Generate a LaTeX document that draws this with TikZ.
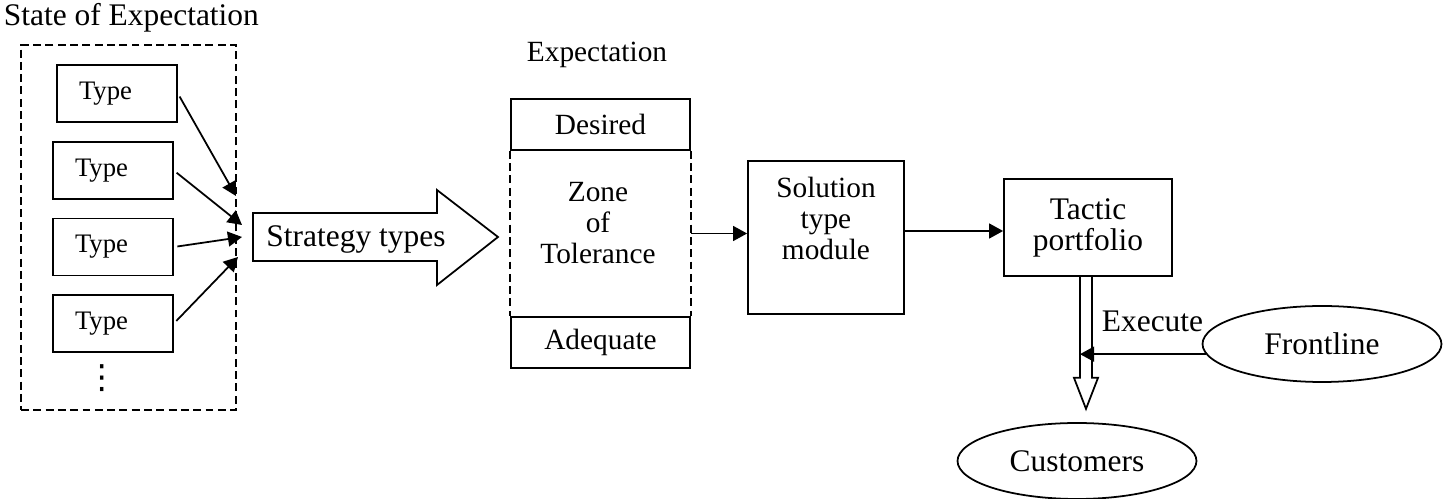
\documentclass[tikz,border=0pt]{standalone}
\usepackage{fontspec}
\setmainfont{Liberation Serif}
\newfontfamily\symfont{DejaVu Sans}
\usetikzlibrary{shapes.geometric, arrows.meta, calc, positioning}

\newcommand{\stdfont}{\fontsize{17.9}{17.6}\selectfont}
\newcommand{\midfont}{\fontsize{16.7}{17.9}\selectfont}
\newcommand{\typefont}{\fontsize{15.2}{17}\selectfont}

\begin{document}
\begin{tikzpicture}[x=0.02cm, y=-0.02cm, line width=1pt,
  box/.style={draw, rectangle, inner sep=0pt},
  typebox/.style={box, minimum width=2.4cm, minimum height=1.14cm, font=\typefont,
    align=left, text width=1.52cm, inner xsep=0.44cm},
  ell/.style={draw, ellipse, minimum width=4.78cm, minimum height=1.52cm, font=\stdfont},
  dashline/.style={dash pattern=on 4.5pt off 2.5pt},
  conn/.style={-{Triangle[length=8pt, width=8.5pt]}}]
  \useasboundingbox (0,0) rectangle (1445,499);

  % State of expectation
  \node[font=\stdfont, anchor=base west, inner sep=0pt] (soetitle) at (3,26) {State of Expectation};
  \node[draw, dashline, minimum width=4.3cm, minimum height=7.3cm] (soe) at (128.5,227.5) {};
  \foreach \i/\x/\y in {1/117/93.5, 2/113/170.5, 3/113/247, 4/113/323.5}
    \node[typebox] (t\i) at (\x,\y) {Type};
  \node[font=\symfont\fontsize{19}{19}\selectfont, inner sep=0pt] (dots) at (102,378) {⋮};
  \foreach \i/\x/\y in {1/236/196, 2/242/225, 3/242/237, 4/238/257}
    \coordinate (in\i) at (\x,\y);
  \foreach \i in {1,...,4}
    \draw[conn, shorten <=2pt] (t\i.east) -- (in\i);

  % Strategy types (block arrow)
  \coordinate (sa) at (253,237);
  \draw ($(sa)+(0,-24)$) -- ++(184,0) -- ++(0,-23) -- ++(61,47) -- ++(-61,48)
    -- ++(0,-24) -- ++(-184,0) -- cycle;
  \node[font=\stdfont, anchor=base] (st) at (356,247) {Strategy types};

  % Expectation
  \node[font=\midfont, anchor=base] (exptitle) at (597,62) {Expectation};
  \node[box, minimum width=3.58cm, minimum height=1.02cm, font=\midfont] (des) at (600.5,124.5) {Desired};
  \node[box, minimum width=3.58cm, minimum height=1.02cm, font=\midfont] (ade) at (600.5,342.5) {Adequate};
  \draw[dashline] (des.south west) -- (ade.north west);
  \draw[dashline] (des.south east) -- (ade.north east);
  \node[minimum width=3.58cm, minimum height=3.34cm] (zot) at (600.5,233.5) {};
  \node[font=\midfont, align=center] (zt) at (598,223) {Zone\\of\\Tolerance};

  % Solution and tactic
  \node[box, minimum width=3.12cm, minimum height=3.06cm] (sol) at (826,237.5) {};
  \node[font=\midfont, align=center] (soltxt) at (826,218.5) {Solution\\type\\module};
  \node[box, minimum width=3.36cm, minimum height=1.94cm, font=\stdfont, align=center] (tp) at (1088,227.5) {Tactic\\portfolio};
  \draw[conn] (zot.east) -- (zot.east -| sol.west);
  \draw[conn] ([yshift=0.13cm]sol.east) -- ([yshift=0.13cm]sol.east -| tp.west);

  % Execute
  \coordinate (da) at ($(tp.south)+(-2,0)$);
  \coordinate (dal) at ($(da)+(-6,0)$);
  \draw (dal) -- ++(0,101) -- ++(-6,0) -- ++(12,31) -- ++(12,-31) -- ++(-6,0) -- ++(0,-101);
  \node[ell] (fl) at (1322,344) {Frontline};
  \node[ell] (cus) at (1077,461) {Customers};
  \node[font=\stdfont, anchor=base] (exe) at (1152.5,332) {Execute};
  \draw[conn] (fl.185) -- (fl.185 -| dal);
\end{tikzpicture}
\end{document}
